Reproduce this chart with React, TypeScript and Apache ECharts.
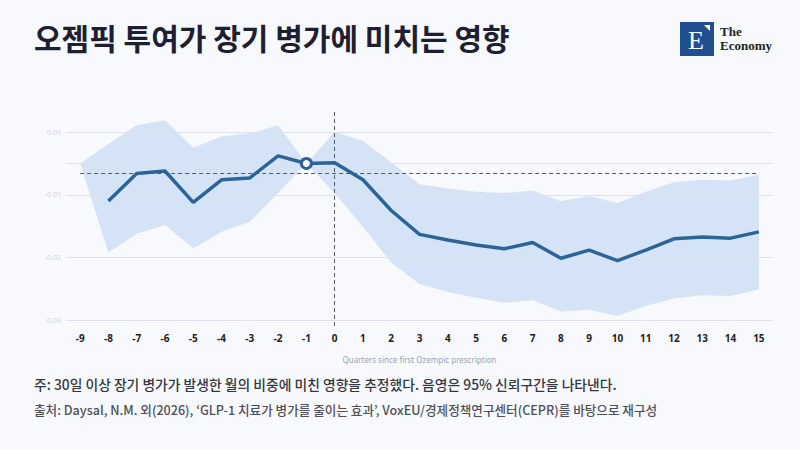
import React, { useEffect, useRef } from "react";
import * as echarts from "echarts";

const quarters = ["-9","-8","-7","-6","-5","-4","-3","-2","-1","0","1","2","3","4","5","6","7","8","9","10","11","12","13","14","15"];
const effect = [null, -0.0060, -0.0016, -0.0012, -0.0062, -0.0026, -0.0023, 0.0012, 0, 0.0001, -0.0026, -0.0075, -0.0113, -0.0122, -0.0130, -0.0136, -0.0126, -0.0151, -0.0138, -0.0155, -0.0138, -0.0120, -0.0117, -0.0119, -0.0109];
const upperCI = [0, 0.0031, 0.0061, 0.0069, 0.0025, 0.0043, 0.0048, 0.0061, 0, 0.0050, 0.0036, 0.0002, -0.0033, -0.0040, -0.0045, -0.0047, -0.0043, -0.0060, -0.0052, -0.0063, -0.0045, -0.0030, -0.0026, -0.0027, -0.0018];
const lowerCI = [0, -0.0142, -0.0112, -0.0098, -0.0135, -0.0109, -0.0093, -0.0047, 0, -0.0047, -0.0101, -0.0158, -0.0192, -0.0205, -0.0214, -0.0222, -0.0218, -0.0236, -0.0233, -0.0243, -0.0227, -0.0215, -0.0210, -0.0211, -0.0201];
const referenceLevel = -0.0016;
const eventQuarter = "0";
const baseQuarter = "-1";
const yTickValues = [0.005, 0, -0.005, -0.015, -0.025];
const yTickLabels = ["0.01", "", "-0.01", "-0.02", "-0.03"];

const TITLE = "오젬픽 투여가 장기 병가에 미치는 영향";
const NOTE = "주: 30일 이상 장기 병가가 발생한 월의 비중에 미친 영향을 추정했다. 음영은 95% 신뢰구간을 나타낸다.";
const SOURCE = "출처: Daysal, N.M. 외(2026), ‘GLP-1 치료가 병가를 줄이는 효과’, VoxEU/경제정책연구센터(CEPR)를 바탕으로 재구성";
const X_NAME = "Quarters since first Ozempic prescription";

const KR = "'Noto Sans CJK KR', 'Noto Sans', sans-serif";
const LINE_BLUE = "#2b6499";

export default function App() {
  const ref = useRef<HTMLDivElement>(null);
  useEffect(() => {
    if (!ref.current) return;
    const chart = echarts.init(ref.current, null, { renderer: "svg" });
    const bandWidth = upperCI.map((u, i) => +(u - lowerCI[i]).toFixed(5));
    const mainData = effect.map((v, i) =>
      quarters[i] === baseQuarter
        ? {
            value: v,
            symbol: "circle",
            symbolSize: 10,
            itemStyle: { color: "#ffffff", borderColor: LINE_BLUE, borderWidth: 3 },
          }
        : v
    );
    chart.setOption({
      animation: false,
      backgroundColor: "#f8f9fd",
      grid: { left: 66, right: 27, top: 112, bottom: 124 },
      xAxis: {
        type: "category",
        data: quarters,
        boundaryGap: true,
        axisLine: { show: false },
        axisTick: { show: false },
        axisLabel: { color: "#222", fontSize: 10, fontWeight: "bold", margin: 7, fontFamily: "'Noto Sans', sans-serif" },
        name: X_NAME,
        nameLocation: "middle",
        nameGap: 29,
        nameTextStyle: { color: "#9aa3b4", fontSize: 8, fontFamily: "'Noto Sans', sans-serif" },
        splitLine: { show: false },
      },
      yAxis: {
        type: "value",
        min: -0.0259,
        max: 0.0082,
        axisLine: { show: false },
        axisTick: { show: false },
        axisLabel: { show: false },
        splitLine: { show: false },
      },
      graphic: [
        {
          type: "text",
          left: 34,
          top: 22,
          style: { text: TITLE, fontSize: 30, fontWeight: "bold", fill: "#1d2030", fontFamily: KR },
        },
        {
          type: "text",
          left: 34,
          top: 377,
          style: { text: NOTE, fontSize: 13.8, fontWeight: 500, fill: "#34373f", fontFamily: KR },
        },
        {
          type: "text",
          left: 34,
          top: 403,
          style: { text: SOURCE, fontSize: 12.6, fontWeight: 500, fill: "#4d5059", fontFamily: KR },
        },
        {
          type: "group",
          left: 680,
          top: 22,
          children: [
            { type: "rect", shape: { x: 0, y: 0, width: 34, height: 34 }, style: { fill: "#1f4f8f" } },
            {
              type: "polygon",
              shape: { points: [[24, 3], [30, 3], [30, 9]] },
              style: { fill: "#ffffff" },
            },
            {
              type: "text",
              x: 16,
              y: 18,
              style: { text: "E", fontSize: 26, fill: "#ffffff", fontFamily: "'Liberation Serif', serif", align: "center", verticalAlign: "middle" },
            },
            {
              type: "text",
              x: 40,
              y: 3,
              style: { text: "The", fontSize: 13, fontWeight: "bold", fill: "#222", fontFamily: "'Liberation Serif', serif" },
            },
            {
              type: "text",
              x: 40,
              y: 17,
              style: { text: "Economy", fontSize: 13, fontWeight: "bold", fill: "#222", fontFamily: "'Liberation Serif', serif" },
            },
          ],
        },
      ],
      series: [
        {
          name: "grid",
          type: "line",
          data: quarters.map(() => null),
          symbol: "none",
          silent: true,
          z: 0,
          markLine: {
            silent: true,
            symbol: "none",
            precision: 6,
            animation: false,
            lineStyle: { color: "#dde2ec", width: 1, type: "solid" },
            label: { show: true, position: "start", color: "#cdd4e0", fontSize: 7, distance: 5, fontFamily: "'Noto Sans', sans-serif" },
            data: yTickValues.map((v, i) => ({
              name: "g" + i,
              yAxis: v,
              label: { formatter: yTickLabels[i] },
            })),
          },
        },
        {
          name: "lower",
          type: "line",
          data: lowerCI,
          stack: "ci",
          stackStrategy: "all",
          symbol: "none",
          lineStyle: { opacity: 0 },
          silent: true,
          z: 1,
        },
        {
          name: "band",
          type: "line",
          data: bandWidth,
          stack: "ci",
          stackStrategy: "all",
          symbol: "none",
          lineStyle: { opacity: 0 },
          areaStyle: { color: "#a9c9ee", opacity: 0.45 },
          silent: true,
          z: 2,
        },
        {
          name: "effect",
          type: "line",
          data: mainData,
          symbol: "none",
          showSymbol: true,
          connectNulls: false,
          lineStyle: { color: LINE_BLUE, width: 3.5 },
          itemStyle: { color: LINE_BLUE },
          z: 5,
          markLine: {
            silent: true,
            symbol: "none",
            precision: 6,
            animation: false,
            label: { show: false },
            lineStyle: { color: "#555a66", width: 1, type: [4, 3] },
            data: [
              { xAxis: eventQuarter },
              [
                { coord: [quarters[0], referenceLevel] },
                { coord: [quarters[quarters.length - 1], referenceLevel] },
              ],
            ],
          },
        },
      ],
    });
    return () => chart.dispose();
  }, []);
  return <div ref={ref} style={{ position: "fixed", left: 0, top: 0, width: 800, height: 450 }} />;
}
